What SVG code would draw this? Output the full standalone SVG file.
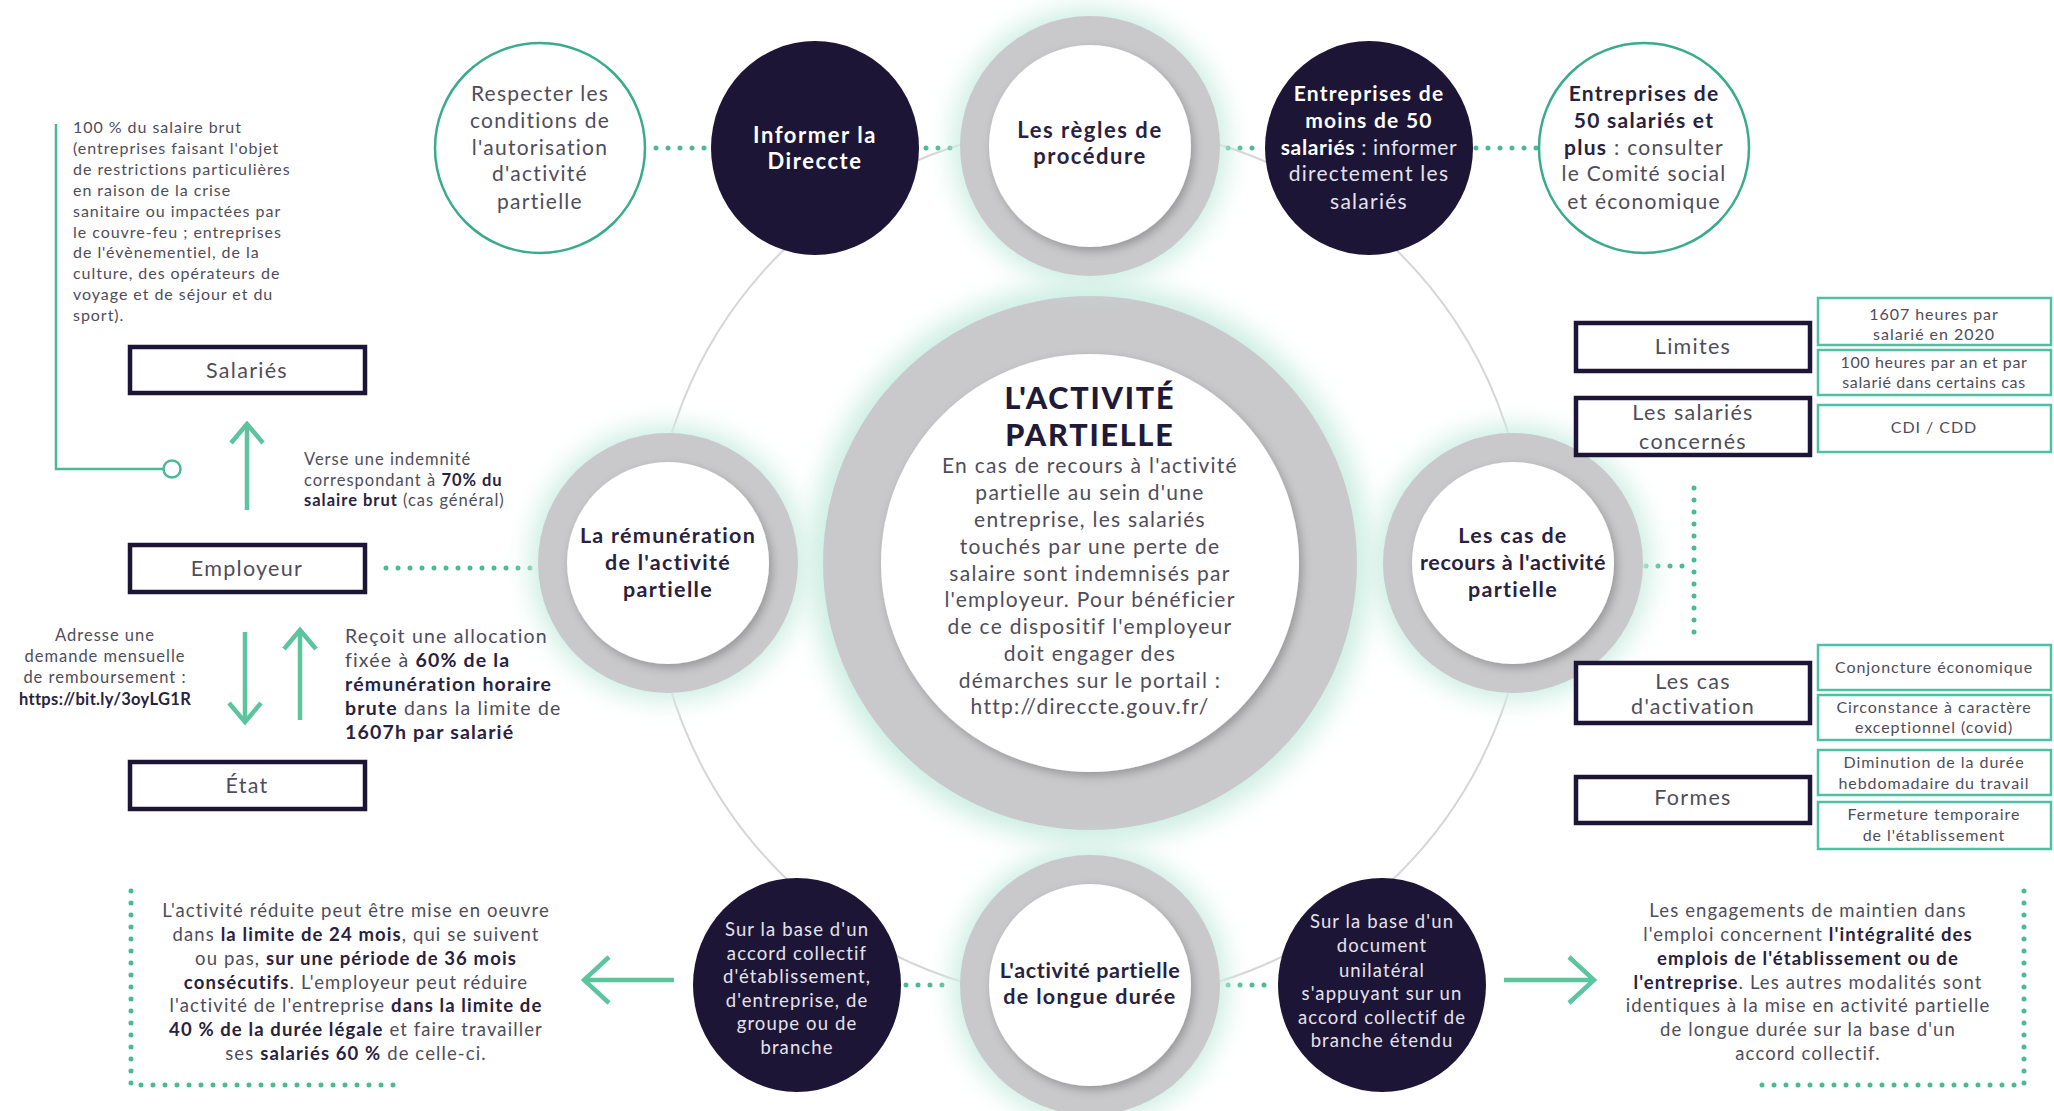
<svg xmlns="http://www.w3.org/2000/svg" width="2054" height="1111" viewBox="0 0 2054 1111">
<defs>
<style>
text{font-family:Lato,"Liberation Sans",sans-serif;fill:#4f4d5a;letter-spacing:0.06em}
.b{font-weight:700;fill:#29223f;letter-spacing:0.06em}
.w{fill:#e4e2ea}
.wb{fill:#ffffff;font-weight:700}
.c{text-anchor:middle}
.hd{font-size:22px;letter-spacing:0.07em}
.tt{font-size:30.5px;font-weight:900;fill:#201a38;letter-spacing:0.06em}
.dot{fill:none;stroke:#4cb995;stroke-width:5;stroke-linecap:round;stroke-dasharray:0 12}
.arr{fill:none;stroke:#5cc49f;stroke-width:4.5}
.box{fill:#fff;stroke:#1d1535;stroke-width:4.5}
.tbox{fill:#fff;stroke:#4cc2a2;stroke-width:2.5}
.ring{fill:#c9c9cb}
.inner{fill:#fff}
.dark{fill:#1d1535}
.tc{fill:#fff;stroke:#3aab8c;stroke-width:2.5}
.glow{fill:#cdeee2;filter:url(#blur)}
</style>
<filter id="blur" x="-30%" y="-30%" width="160%" height="160%"><feGaussianBlur stdDeviation="12"/></filter>
<filter id="sh" x="-20%" y="-20%" width="140%" height="140%"><feDropShadow dx="3" dy="4" stdDeviation="5" flood-color="#000" flood-opacity="0.25"/></filter>
<marker id="chev" markerUnits="userSpaceOnUse" viewBox="0 0 24 36" refX="21" refY="18" markerWidth="24" markerHeight="36" orient="auto"><path d="M2,2 L21,18 L2,34" fill="none" stroke="#5cc49f" stroke-width="4.5"/></marker>
<marker id="chevL" markerUnits="userSpaceOnUse" viewBox="0 0 30 50" refX="27" refY="25" markerWidth="30" markerHeight="50" orient="auto"><path d="M2,2 L27,25 L2,48" fill="none" stroke="#5cc49f" stroke-width="4.5"/></marker>
</defs>
<rect width="2054" height="1111" fill="#fff"/>

<g id="connectors">
<circle cx="1090" cy="563" r="438" fill="none" stroke="#d6d6d8" stroke-width="2"/>
<line class="dot" x1="656" y1="148" x2="706" y2="148"/>
<line class="dot" x1="926" y1="148" x2="962" y2="148"/>
<line class="dot" x1="1228" y1="148" x2="1264" y2="148"/>
<line class="dot" x1="1476" y1="148" x2="1540" y2="148"/>
<line class="dot" x1="386" y1="568" x2="534" y2="568"/>
<line class="dot" x1="1646" y1="566" x2="1694" y2="566"/>
<line class="dot" x1="1694" y1="488" x2="1694" y2="644"/>
<line class="dot" x1="906" y1="985" x2="954" y2="985"/>
<line class="dot" x1="1228" y1="985" x2="1276" y2="985"/>
<path class="dot" d="M131,891 V1085 H400"/>
<path class="dot" d="M2024,891 V1085 H1755"/>
<path d="M56,124 V469 H164" fill="none" stroke="#4cb995" stroke-width="2.5"/>
<circle cx="172" cy="469" r="8.5" fill="#fff" stroke="#4cb995" stroke-width="2.5"/>
<line class="arr" x1="247" y1="510" x2="247" y2="424" marker-end="url(#chev)"/>
<line class="arr" x1="245" y1="632" x2="245" y2="722" marker-end="url(#chev)"/>
<line class="arr" x1="300" y1="720" x2="300" y2="630" marker-end="url(#chev)"/>
<line class="arr" x1="674" y1="980" x2="584" y2="980" marker-end="url(#chevL)"/>
<line class="arr" x1="1504" y1="980" x2="1594" y2="980" marker-end="url(#chevL)"/>
</g>

<g id="center">
<circle class="glow" cx="1090" cy="563" r="280"/>
<circle class="ring" cx="1090" cy="563" r="267"/>
<circle class="inner" cx="1090" cy="563" r="209" filter="url(#sh)"/>
<text class="c tt" x="1090" y="409">L'ACTIVITÉ</text>
<text class="c tt" x="1090" y="446">PARTIELLE</text>
<g font-size="21">
<text class="c" x="1090" y="473">En cas de recours à l'activité</text>
<text class="c" x="1090" y="500">partielle au sein d'une</text>
<text class="c" x="1090" y="527">entreprise, les salariés</text>
<text class="c" x="1090" y="554">touchés par une perte de</text>
<text class="c" x="1090" y="581">salaire sont indemnisés par</text>
<text class="c" x="1090" y="607">l'employeur. Pour bénéficier</text>
<text class="c" x="1090" y="634">de ce dispositif l'employeur</text>
<text class="c" x="1090" y="661">doit engager des</text>
<text class="c" x="1090" y="688">démarches sur le portail :</text>
<text class="c" x="1090" y="714">http://direccte.gouv.fr/</text>
</g>
</g>

<g id="sat-regles">
<circle class="glow" cx="1090" cy="146" r="138"/>
<circle class="ring" cx="1090" cy="146" r="130"/>
<circle class="inner" cx="1090" cy="146" r="101" filter="url(#sh)"/>
<text class="c b hd" x="1090" y="138">Les règles de</text>
<text class="c b hd" x="1090" y="164">procédure</text>
</g>

<g id="sat-remuneration">
<circle class="glow" cx="668" cy="563" r="138"/>
<circle class="ring" cx="668" cy="563" r="130"/>
<circle class="inner" cx="668" cy="563" r="101" filter="url(#sh)"/>
<text class="c b" x="668" y="543" font-size="21.5">La rémunération</text>
<text class="c b" x="668" y="570" font-size="21.5">de l'activité</text>
<text class="c b" x="668" y="597" font-size="21.5">partielle</text>
</g>

<g id="sat-cas">
<circle class="glow" cx="1513" cy="563" r="138"/>
<circle class="ring" cx="1513" cy="563" r="130"/>
<circle class="inner" cx="1513" cy="563" r="101" filter="url(#sh)"/>
<text class="c b" x="1513" y="543" font-size="21.5">Les cas de</text>
<text class="c b" x="1513" y="570" font-size="21.5" style="letter-spacing:0.03em">recours à l'activité</text>
<text class="c b" x="1513" y="597" font-size="21.5">partielle</text>
</g>

<g id="sat-longue">
<circle class="glow" cx="1090" cy="985" r="138"/>
<circle class="ring" cx="1090" cy="985" r="130"/>
<circle class="inner" cx="1090" cy="985" r="101" filter="url(#sh)"/>
<text class="c b" x="1090" y="978" font-size="21.5" style="letter-spacing:0.03em">L'activité partielle</text>
<text class="c b" x="1090" y="1004" font-size="21.5">de longue durée</text>
</g>

<g id="respecter">
<circle class="tc" cx="540" cy="148" r="105"/>
<g font-size="21">
<text class="c" x="540" y="101">Respecter les</text>
<text class="c" x="540" y="128">conditions de</text>
<text class="c" x="540" y="155">l'autorisation</text>
<text class="c" x="540" y="181">d'activité</text>
<text class="c" x="540" y="209">partielle</text>
</g>
</g>

<g id="informer">
<ellipse class="dark" cx="815" cy="148" rx="104" ry="107"/>
<text class="c wb hd" x="815" y="143">Informer la</text>
<text class="c wb hd" x="815" y="169">Direccte</text>
</g>

<g id="moins50">
<ellipse class="dark" cx="1369" cy="148" rx="104" ry="107"/>
<g font-size="21">
<text class="c wb" x="1369" y="101">Entreprises de</text>
<text class="c wb" x="1369" y="128">moins de 50</text>
<text class="c w" x="1369" y="155" style="letter-spacing:0.03em"><tspan class="wb">salariés</tspan> : informer</text>
<text class="c w" x="1369" y="181">directement les</text>
<text class="c w" x="1369" y="209">salariés</text>
</g>
</g>

<g id="plus50">
<circle class="tc" cx="1644" cy="148" r="105"/>
<g font-size="21">
<text class="c b" x="1644" y="101">Entreprises de</text>
<text class="c b" x="1644" y="128">50 salariés et</text>
<text class="c" x="1644" y="155"><tspan class="b">plus</tspan> : consulter</text>
<text class="c" x="1644" y="181">le Comité social</text>
<text class="c" x="1644" y="209">et économique</text>
</g>
</g>

<g id="accord">
<ellipse class="dark" cx="797" cy="985" rx="104" ry="107"/>
<g font-size="18.5">
<text class="c w" x="797" y="936">Sur la base d'un</text>
<text class="c w" x="797" y="960">accord collectif</text>
<text class="c w" x="797" y="983">d'établissement,</text>
<text class="c w" x="797" y="1007">d'entreprise, de</text>
<text class="c w" x="797" y="1030">groupe ou de</text>
<text class="c w" x="797" y="1054">branche</text>
</g>
</g>

<g id="unilateral">
<ellipse class="dark" cx="1382" cy="985" rx="104" ry="107"/>
<g font-size="18.5">
<text class="c w" x="1382" y="928">Sur la base d'un</text>
<text class="c w" x="1382" y="952">document</text>
<text class="c w" x="1382" y="977">unilatéral</text>
<text class="c w" x="1382" y="1000">s'appuyant sur un</text>
<text class="c w" x="1382" y="1024">accord collectif de</text>
<text class="c w" x="1382" y="1047">branche étendu</text>
</g>
</g>

<g id="note-100">
<g font-size="16">
<text x="73" y="133">100 % du salaire brut</text>
<text x="73" y="154">(entreprises faisant l'objet</text>
<text x="73" y="175">de restrictions particulières</text>
<text x="73" y="196">en raison de la crise</text>
<text x="73" y="217">sanitaire ou impactées par</text>
<text x="73" y="238">le couvre-feu ; entreprises</text>
<text x="73" y="258">de l'évènementiel, de la</text>
<text x="73" y="279">culture, des opérateurs de</text>
<text x="73" y="300">voyage et de séjour et du</text>
<text x="73" y="321">sport).</text>
</g>
</g>

<g id="salaries">
<rect class="box" x="130" y="347" width="235" height="46"/>
<text class="c" x="247" y="378" font-size="21.5">Salariés</text>
</g>

<g id="note-verse">
<g font-size="16.5">
<text x="304" y="465">Verse une indemnité</text>
<text x="304" y="486">correspondant à <tspan class="b">70% du</tspan></text>
<text x="304" y="506"><tspan class="b">salaire brut</tspan> (cas général)</text>
</g>
</g>

<g id="employeur">
<rect class="box" x="130" y="545" width="235" height="47"/>
<text class="c" x="247" y="576" font-size="21.5">Employeur</text>
</g>

<g id="note-adresse">
<g font-size="16.5">
<text class="c" x="105" y="641">Adresse une</text>
<text class="c" x="105" y="662">demande mensuelle</text>
<text class="c" x="105" y="683">de remboursement :</text>
<text class="c b" x="105" y="705" style="letter-spacing:0.02em">https://bit.ly/3oyLG1R</text>
</g>
</g>

<g id="note-recoit">
<g font-size="19.5">
<text x="345" y="643">Reçoit une allocation</text>
<text x="345" y="667">fixée à <tspan class="b">60% de la</tspan></text>
<text x="345" y="691"><tspan class="b">rémunération horaire</tspan></text>
<text x="345" y="715"><tspan class="b">brute</tspan> dans la limite de</text>
<text x="345" y="739"><tspan class="b">1607h par salarié</tspan></text>
</g>
</g>

<g id="etat">
<rect class="box" x="130" y="762" width="235" height="47"/>
<text class="c" x="247" y="793" font-size="21.5">État</text>
</g>

<g id="limites">
<rect class="box" x="1576" y="323" width="234" height="48"/>
<text class="c" x="1693" y="354" font-size="21.5">Limites</text>
</g>
<g id="salaries-concernes">
<rect class="box" x="1576" y="398" width="234" height="57"/>
<text class="c" x="1693" y="420" font-size="21.5">Les salariés</text>
<text class="c" x="1693" y="449" font-size="21.5">concernés</text>
</g>
<g id="cas-activation">
<rect class="box" x="1576" y="663" width="234" height="60"/>
<text class="c" x="1693" y="689" font-size="21.5">Les cas</text>
<text class="c" x="1693" y="714" font-size="21.5">d'activation</text>
</g>
<g id="formes">
<rect class="box" x="1576" y="777" width="234" height="46"/>
<text class="c" x="1693" y="805" font-size="21.5">Formes</text>
</g>

<g id="t-1607">
<rect class="tbox" x="1818" y="298" width="233" height="47"/>
<text class="c" x="1934" y="320" font-size="16">1607 heures par</text>
<text class="c" x="1934" y="340" font-size="16">salarié en 2020</text>
</g>
<g id="t-100h">
<rect class="tbox" x="1818" y="350" width="233" height="45"/>
<text class="c" x="1934" y="368" font-size="16" style="letter-spacing:0.04em">100 heures par an et par</text>
<text class="c" x="1934" y="388" font-size="16" style="letter-spacing:0.04em">salarié dans certains cas</text>
</g>
<g id="t-cdi">
<rect class="tbox" x="1818" y="405" width="233" height="47"/>
<text class="c" x="1934" y="433" font-size="16">CDI / CDD</text>
</g>
<g id="t-conj">
<rect class="tbox" x="1818" y="645" width="233" height="45"/>
<text class="c" x="1934" y="673" font-size="16">Conjoncture économique</text>
</g>
<g id="t-circ">
<rect class="tbox" x="1818" y="695" width="233" height="45"/>
<text class="c" x="1934" y="713" font-size="16">Circonstance à caractère</text>
<text class="c" x="1934" y="733" font-size="16">exceptionnel (covid)</text>
</g>
<g id="t-dimin">
<rect class="tbox" x="1818" y="750" width="233" height="45"/>
<text class="c" x="1934" y="768" font-size="16">Diminution de la durée</text>
<text class="c" x="1934" y="789" font-size="16">hebdomadaire du travail</text>
</g>
<g id="t-ferm">
<rect class="tbox" x="1818" y="802" width="233" height="47"/>
<text class="c" x="1934" y="820" font-size="16">Fermeture temporaire</text>
<text class="c" x="1934" y="841" font-size="16">de l'établissement</text>
</g>

<g id="note-reduite">
<g font-size="18.5">
<text class="c" x="356" y="917">L'activité réduite peut être mise en oeuvre</text>
<text class="c" x="356" y="941">dans <tspan class="b">la limite de 24 mois</tspan>, qui se suivent</text>
<text class="c" x="356" y="965">ou pas, <tspan class="b">sur une période de 36 mois</tspan></text>
<text class="c" x="356" y="989"><tspan class="b">consécutifs</tspan>. L'employeur peut réduire</text>
<text class="c" x="356" y="1012">l'activité de l'entreprise <tspan class="b">dans la limite de</tspan></text>
<text class="c" x="356" y="1036"><tspan class="b">40 % de la durée légale</tspan> et faire travailler</text>
<text class="c" x="356" y="1060">ses <tspan class="b">salariés 60 %</tspan> de celle-ci.</text>
</g>
</g>

<g id="note-engagements">
<g font-size="18.5">
<text class="c" x="1808" y="917">Les engagements de maintien dans</text>
<text class="c" x="1808" y="941">l'emploi concernent <tspan class="b">l'intégralité des</tspan></text>
<text class="c" x="1808" y="965"><tspan class="b">emplois de l'établissement ou de</tspan></text>
<text class="c" x="1808" y="989"><tspan class="b">l'entreprise</tspan>. Les autres modalités sont</text>
<text class="c" x="1808" y="1012">identiques à la mise en activité partielle</text>
<text class="c" x="1808" y="1036">de longue durée sur la base d'un</text>
<text class="c" x="1808" y="1060">accord collectif.</text>
</g>
</g>
</svg>
